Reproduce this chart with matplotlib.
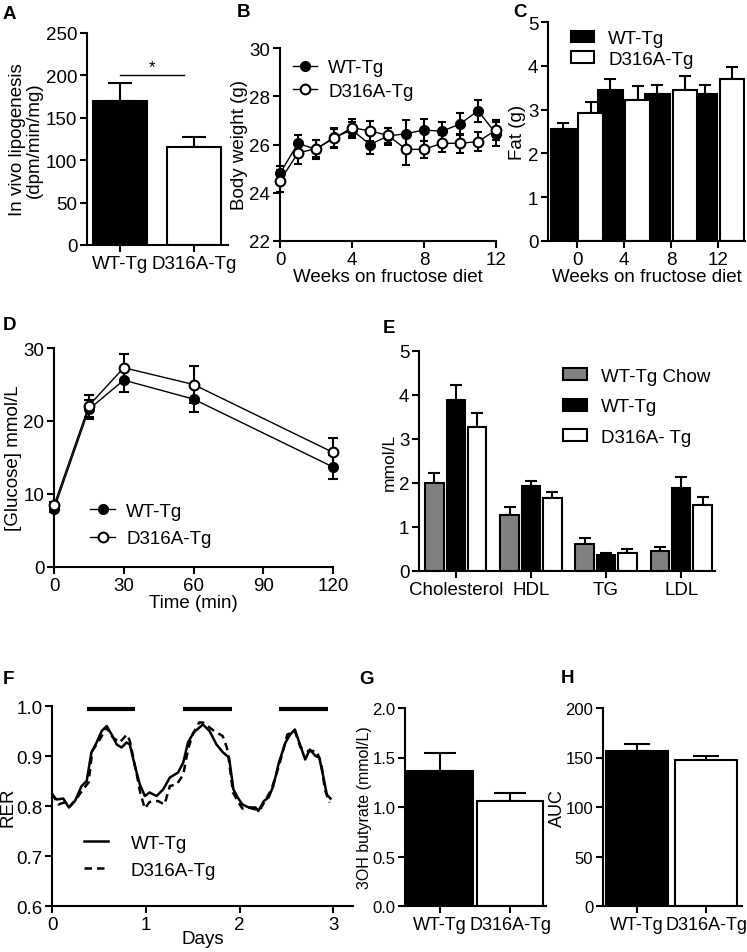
import numpy as np
import matplotlib.pyplot as plt

plt.rcParams['font.family'] = ['Liberation Sans', 'DejaVu Sans']
plt.rcParams['font.size'] = 13.5
plt.rcParams['axes.linewidth'] = 1.5

W, H = 747, 953

groups = ['WT-Tg', 'D316A-Tg']

# A: in vivo lipogenesis
lipo_mean = [170, 116]
lipo_sem = [21, 11]

# B: body weight over weeks
weeks = [0, 1, 2, 3, 4, 5, 6, 7, 8, 9, 10, 11, 12]
bw_wt = [24.8, 26.05, 25.8, 26.3, 26.6, 26.0, 26.35, 26.45, 26.6, 26.55, 26.85, 27.4, 26.45]
bw_wt_sem = [0.3, 0.35, 0.4, 0.4, 0.35, 0.4, 0.35, 0.55, 0.45, 0.4, 0.45, 0.45, 0.5]
bw_d316a = [24.5, 25.65, 25.83, 26.25, 26.7, 26.56, 26.38, 25.8, 25.8, 26.05, 26.05, 26.12, 26.6]
bw_d316a_sem = [0.45, 0.45, 0.35, 0.4, 0.35, 0.4, 0.3, 0.65, 0.35, 0.35, 0.4, 0.4, 0.4]

# C: fat mass
fat_weeks = ['0', '4', '8', '12']
fat_wt = [2.56, 3.45, 3.36, 3.36]
fat_wt_sem = [0.13, 0.24, 0.21, 0.21]
fat_d316a = [2.93, 3.23, 3.45, 3.71]
fat_d316a_sem = [0.24, 0.3, 0.31, 0.26]

# D: glucose tolerance
gtt_time = [0, 15, 30, 60, 120]
glu_wt = [7.9, 21.6, 25.6, 23.0, 13.7]
glu_wt_sem = [0.4, 1.3, 1.6, 1.8, 1.6]
glu_d316a = [8.45, 22.1, 27.3, 25.0, 15.7]
glu_d316a_sem = [0.4, 1.5, 1.9, 2.5, 2.0]

# E: plasma lipids
lipids = ['Cholesterol', 'HDL', 'TG', 'LDL']
lip_chow = [2.01, 1.28, 0.61, 0.46]
lip_chow_sem = [0.22, 0.18, 0.13, 0.08]
lip_wt = [3.89, 1.94, 0.36, 1.88]
lip_wt_sem = [0.34, 0.11, 0.06, 0.26]
lip_d316a = [3.27, 1.65, 0.42, 1.5]
lip_d316a_sem = [0.32, 0.15, 0.07, 0.19]

# F: RER traces
rer_wt_days = [0, 0.05, 0.12, 0.18, 0.245, 0.316, 0.37, 0.42, 0.476, 0.53, 0.583,
               0.636, 0.69, 0.742, 0.795, 0.83, 0.884, 0.937, 0.99, 1.04, 1.115,
               1.185, 1.257, 1.345, 1.4, 1.45, 1.51, 1.61, 1.68, 1.754, 1.824,
               1.888, 1.91, 1.935, 1.98, 2.03, 2.1, 2.17, 2.2, 2.26, 2.31, 2.36,
               2.42, 2.49, 2.54, 2.59, 2.65, 2.7, 2.75, 2.81, 2.85, 2.9, 2.93, 2.97]
rer_wt = [0.823, 0.813, 0.815, 0.797, 0.81, 0.84, 0.85, 0.907, 0.927, 0.95, 0.96,
          0.943, 0.923, 0.917, 0.927, 0.923, 0.88, 0.843, 0.82, 0.827, 0.82,
          0.833, 0.857, 0.867, 0.887, 0.927, 0.947, 0.963, 0.95, 0.923, 0.907,
          0.897, 0.867, 0.833, 0.817, 0.803, 0.797, 0.797, 0.79, 0.81, 0.817, 0.84,
          0.887, 0.927, 0.943, 0.953, 0.92, 0.893, 0.913, 0.9, 0.897, 0.853, 0.823, 0.815]
rer_d316a_days = [0, 0.067, 0.13, 0.19, 0.27, 0.33, 0.39, 0.43, 0.51, 0.58, 0.65,
                  0.72, 0.8, 0.83, 0.9, 0.94, 0.99, 1.04, 1.13, 1.2, 1.257, 1.33,
                  1.4, 1.45, 1.5, 1.57, 1.61, 1.73, 1.82, 1.865, 1.89, 1.93, 1.98,
                  2.03, 2.1, 2.17, 2.22, 2.28, 2.34, 2.42, 2.51, 2.59, 2.65, 2.73,
                  2.82, 2.87, 2.91, 2.96]
rer_d316a = [0.825, 0.803, 0.807, 0.799, 0.817, 0.833, 0.847, 0.91, 0.933, 0.957, 0.937,
             0.927, 0.943, 0.93, 0.867, 0.827, 0.795, 0.808, 0.81, 0.803, 0.84, 0.843,
             0.863, 0.913, 0.943, 0.967, 0.967, 0.95, 0.94, 0.917, 0.887, 0.827, 0.81,
             0.795, 0.797, 0.793, 0.793, 0.813, 0.833, 0.88, 0.943, 0.95, 0.917, 0.91,
             0.91, 0.887, 0.833, 0.807]
dark_start = [0.37, 1.395, 2.425]
dark_end = [0.887, 1.917, 2.946]

# G: 3OH butyrate
but_mean = [1.36, 1.065]
but_sem = [0.19, 0.075]

# H: AUC
auc_mean = [156.5, 147.4]
auc_sem = [6.7, 4.0]


fig = plt.figure(figsize=(W / 100, H / 100), dpi=100)


def axes_px(l, t, r, b):
    return fig.add_axes([l / W, 1 - b / H, (r - l) / W, (b - t) / H])


def style(ax):
    ax.spines['top'].set_visible(False)
    ax.spines['right'].set_visible(False)
    ax.tick_params(direction='out', length=5, width=1.5, pad=2)


def up_err(ax, x, mean, sem, cap):
    ax.errorbar(x, mean, yerr=[np.zeros(len(sem)), sem], fmt='none', ecolor='k',
                elinewidth=1.5, capsize=cap, capthick=1.5, zorder=1)


def label(x, y, s):
    fig.text(x / W, 1 - y / H, s, fontsize=13.5, fontweight='bold', va='top', ha='left')


# ---- A
ax = axes_px(87, 34, 228, 246)
x = np.arange(len(groups))
ax.bar(x, lipo_mean, 0.74, color=['k', 'w'], edgecolor='k', linewidth=1.5, zorder=2)
up_err(ax, x, lipo_mean, lipo_sem, 8.6)
ax.plot([0, 0.86], [200, 200], color='k', lw=1)
ax.text(0.43, 201, '*', ha='center', va='bottom', fontsize=12)
ax.set_xlim(-0.446, 1.46)
ax.set_ylim(0, 250)
ax.set_yticks([0, 50, 100, 150, 200, 250])
ax.set_xticks(x)
ax.set_xticklabels(groups)
ax.set_ylabel('In vivo lipogenesis\n(dpm/min/mg)', labelpad=2, linespacing=1.0)
style(ax)

# ---- B
ax = axes_px(280, 49, 496, 242)
ax.errorbar(weeks, bw_wt, yerr=bw_wt_sem, fmt='-o', color='k', mfc='k', ms=7,
            lw=1, elinewidth=1.5, capsize=3, capthick=1.5, clip_on=False,
            label='WT-Tg', zorder=3)
ax.errorbar(weeks, bw_d316a, yerr=bw_d316a_sem, fmt='-o', color='k', mfc='w', ms=7,
            mew=1.5, lw=1, elinewidth=1.5, capsize=3, capthick=1.5, clip_on=False,
            label='D316A-Tg', zorder=3)
ax.set_xlim(0, 12)
ax.set_ylim(22, 30)
ax.set_xticks([0, 4, 8, 12])
ax.set_yticks([22, 24, 26, 28, 30])
ax.set_xlabel('Weeks on fructose diet', labelpad=0)
ax.set_ylabel('Body weight (g)', labelpad=1)
h, l = ax.get_legend_handles_labels()
h = [hh[0] for hh in h]
ax.legend(h, l, loc='upper left', bbox_to_anchor=(-0.02, 1.03), frameon=False,
          handlelength=1.3, handletextpad=0.6, labelspacing=0.35)
style(ax)

# ---- C
ax = axes_px(548, 23, 745, 242)
x = np.arange(len(fat_weeks))
ax.bar(x - 0.29, fat_wt, 0.52, color='k', edgecolor='k', linewidth=1.5, label='WT-Tg', zorder=2)
ax.bar(x + 0.29, fat_d316a, 0.52, color='w', edgecolor='k', linewidth=1.5, label='D316A-Tg', zorder=2)
up_err(ax, x - 0.29, fat_wt, fat_wt_sem, 4.3)
up_err(ax, x + 0.29, fat_d316a, fat_d316a_sem, 4.3)
ax.set_xlim(-0.617, 3.57)
ax.set_ylim(0, 5)
ax.set_xticks(x)
ax.set_xticklabels(fat_weeks)
ax.set_xlabel('Weeks on fructose diet', labelpad=0)
ax.set_ylabel('Fat (g)', labelpad=1)
ax.legend(loc='upper left', bbox_to_anchor=(0.03, 1.04), frameon=False,
          handlelength=1.25, handleheight=0.6, handletextpad=0.75, labelspacing=0.2)
style(ax)

# ---- D
ax = axes_px(54, 349, 333, 568)
ax.errorbar(gtt_time, glu_wt, yerr=glu_wt_sem, fmt='-o', color='k', mfc='k', ms=7,
            lw=1, elinewidth=1.5, capsize=3.6, capthick=1.5, clip_on=False,
            label='WT-Tg', zorder=3)
ax.errorbar(gtt_time, glu_d316a, yerr=glu_d316a_sem, fmt='-o', color='k', mfc='w', ms=7,
            mew=1.5, lw=1, elinewidth=1.5, capsize=3.6, capthick=1.5, clip_on=False,
            label='D316A-Tg', zorder=3)
ax.set_xlim(0, 120)
ax.set_ylim(0, 30)
ax.set_xticks([0, 30, 60, 90, 120])
ax.set_yticks([0, 10, 20, 30])
ax.set_xlabel('Time (min)', labelpad=0)
ax.set_ylabel('[Glucose] mmol/L', labelpad=1)
h, l = ax.get_legend_handles_labels()
h = [hh[0] for hh in h]
ax.legend(h, l, loc='upper left', bbox_to_anchor=(0.07, 0.37), frameon=False,
          handlelength=1.3, handletextpad=0.6, labelspacing=0.55)
style(ax)

# ---- E
ax = axes_px(419, 352, 715, 572)
x = np.arange(len(lipids))
ax.bar(x - 0.285, lip_chow, 0.245, color='#808080', edgecolor='k', linewidth=1.5,
       label='WT-Tg Chow', zorder=2)
ax.bar(x, lip_wt, 0.245, color='k', edgecolor='k', linewidth=1.5, label='WT-Tg', zorder=2)
ax.bar(x + 0.285, lip_d316a, 0.245, color='w', edgecolor='k', linewidth=1.5,
       label='D316A- Tg', zorder=2)
up_err(ax, x - 0.285, lip_chow, lip_chow_sem, 4.3)
up_err(ax, x, lip_wt, lip_wt_sem, 4.3)
up_err(ax, x + 0.285, lip_d316a, lip_d316a_sem, 4.3)
ax.set_xlim(-0.49, 3.45)
ax.set_ylim(0, 5)
ax.set_xticks(x)
ax.set_xticklabels(lipids)
ax.set_ylabel('mmol/L', fontsize=12.5)
ax.yaxis.set_label_coords(-0.075, 0.5)
ax.legend(loc='upper left', bbox_to_anchor=(0.43, 1.0), frameon=False,
          handlelength=1.25, handleheight=0.6, handletextpad=0.75, labelspacing=0.72)
style(ax)

# ---- F
ax = axes_px(52, 707, 353, 907)
ax.plot(rer_wt_days, rer_wt, '-', color='k', lw=1.8, label='WT-Tg')
ax.plot(rer_d316a_days, rer_d316a, '--', color='k', lw=1.8, dashes=(3, 2), label='D316A-Tg')
ax.hlines([0.995] * len(dark_start), dark_start, dark_end, color='k', lw=3, clip_on=False)
ax.set_xlim(0, 3.21)
ax.set_ylim(0.6, 1.0)
ax.set_xticks([0, 1, 2, 3])
ax.set_yticks([0.6, 0.7, 0.8, 0.9, 1.0])
ax.set_yticklabels(['0.6', '0.7', '0.8', '0.9', '1.0'])
ax.set_xlabel('Days', labelpad=-2)
ax.set_ylabel('RER', labelpad=0)
ax.legend(loc='upper left', bbox_to_anchor=(0.05, 0.44), frameon=False,
          handlelength=1.3, handletextpad=1.2, labelspacing=0.5)
style(ax)

# ---- G
ax = axes_px(405, 709, 546, 907)
x = np.arange(len(groups))
ax.bar(x, but_mean, 0.94, color=['k', 'w'], edgecolor='k', linewidth=1.5, zorder=2)
up_err(ax, x, but_mean, but_sem, 11.5)
ax.set_xlim(-0.5, 1.51)
ax.set_ylim(0, 2.0)
ax.set_yticks([0, 0.5, 1.0, 1.5, 2.0])
ax.set_yticklabels(['0.0', '0.5', '1.0', '1.5', '2.0'], fontsize=12)
ax.set_xticks(x)
ax.set_xticklabels(groups, fontsize=13)
ax.set_ylabel('3OH butyrate (mmol/L)', fontsize=11.5)
ax.yaxis.set_label_coords(-0.235, 0.5)
style(ax)

# ---- H
ax = axes_px(603, 709, 742, 907)
ax.bar(x, auc_mean, 0.9, color=['k', 'w'], edgecolor='k', linewidth=1.5, zorder=2)
up_err(ax, x, auc_mean, auc_sem, 9.4)
ax.set_xlim(-0.49, 1.52)
ax.set_ylim(0, 200)
ax.set_yticks([0, 50, 100, 150, 200])
ax.set_yticklabels(['0', '50', '100', '150', '200'], fontsize=12)
ax.set_xticks(x)
ax.set_xticklabels(groups, fontsize=13)
ax.set_ylabel('AUC', fontsize=13)
ax.yaxis.set_label_coords(-0.27, 0.5)
style(ax)

label(3, 6, 'A')
label(237, 4, 'B')
label(513, 4, 'C')
label(3, 317, 'D')
label(383, 320, 'E')
label(3, 671, 'F')
label(359, 671, 'G')
label(561, 670, 'H')

fig.savefig('out.png', dpi=100)
